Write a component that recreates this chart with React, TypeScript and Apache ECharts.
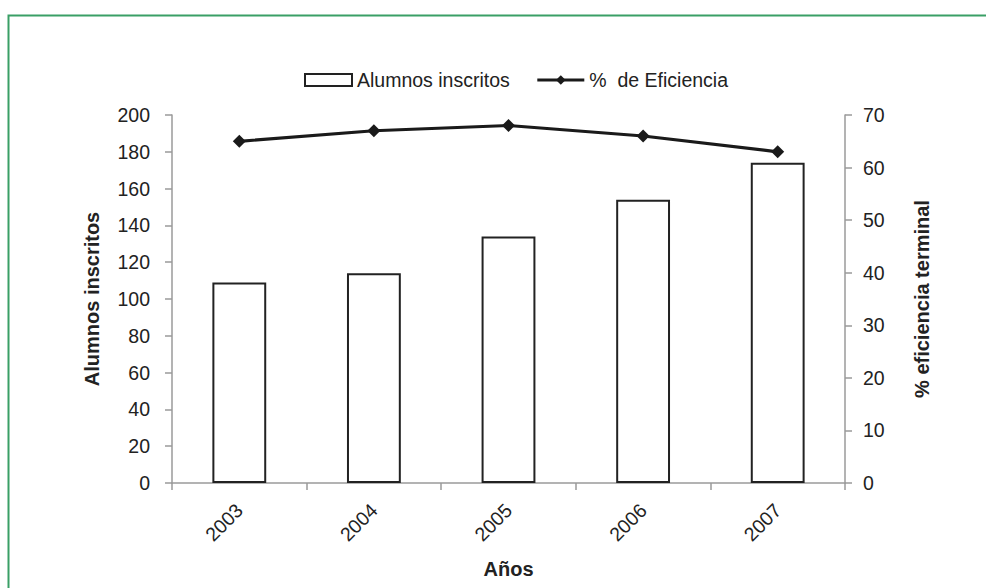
import React, { useEffect, useRef } from "react";
import * as echarts from "echarts";

const years = ["2003", "2004", "2005", "2006", "2007"];
const alumnosInscritos = [109, 114, 134, 154, 174];
const eficiencia = [65, 67, 68, 66, 63];

const FONT = "'Liberation Sans', Arial, Helvetica, sans-serif";
const AXIS_GRAY = "#9a9a9a";
const TEXT = "#222";

export default function App() {
  const ref = useRef<HTMLDivElement>(null);

  useEffect(() => {
    if (!ref.current) return;
    const chart = echarts.init(ref.current, null, { renderer: "svg" });
    chart.setOption({
      animation: false,
      backgroundColor: "#fff",
      textStyle: { fontFamily: FONT },
      graphic: [
        {
          type: "rect",
          shape: { x: 8.5, y: 15.5, width: 1100, height: 700 },
          style: { fill: "none", stroke: "#3a9f66", lineWidth: 2 },
          silent: true,
        },
      ],
      legend: {
        left: 299,
        top: 65,
        itemWidth: 47,
        itemHeight: 12,
        itemGap: 26,
        textStyle: { fontSize: 19.5, color: TEXT, fontFamily: FONT },
        data: [
          { name: "Alumnos inscritos", icon: "rect" },
          {
            name: "%  de Eficiencia",
            lineStyle: { width: 3, color: "#1a1a1a" },
            itemStyle: { color: "#1a1a1a" },
          },
        ],
      },
      grid: { left: 172, right: 141, top: 115, bottom: 105, containLabel: false },
      xAxis: {
        type: "category",
        data: years,
        name: "Años",
        nameLocation: "middle",
        nameGap: 76,
        nameTextStyle: { fontSize: 20, fontWeight: "bold", color: TEXT, fontFamily: FONT },
        axisLine: { lineStyle: { color: AXIS_GRAY, width: 1.5 } },
        axisTick: { show: true, length: 7, lineStyle: { color: AXIS_GRAY, width: 1.5 } },
        axisLabel: { rotate: 45, margin: 24, fontSize: 19.5, color: TEXT, fontFamily: FONT },
      },
      yAxis: [
        {
          type: "value",
          min: 0,
          max: 200,
          interval: 20,
          name: "Alumnos inscritos",
          nameLocation: "middle",
          nameGap: 70,
          nameRotate: 90,
          nameTextStyle: { fontSize: 20, fontWeight: "bold", color: TEXT, fontFamily: FONT },
          axisLine: { show: true, lineStyle: { color: AXIS_GRAY, width: 1.5 } },
          axisTick: { show: true, length: 7, lineStyle: { color: AXIS_GRAY, width: 1.5 } },
          axisLabel: { margin: 22, fontSize: 19.5, color: TEXT, fontFamily: FONT },
          splitLine: { show: false },
        },
        {
          type: "value",
          position: "right",
          min: 0,
          max: 70,
          interval: 10,
          name: "% eficiencia terminal",
          nameLocation: "middle",
          nameGap: 67,
          nameRotate: 90,
          nameTextStyle: { fontSize: 20, fontWeight: "bold", color: TEXT, fontFamily: FONT },
          axisLine: { show: true, lineStyle: { color: AXIS_GRAY, width: 1.5 } },
          axisTick: { show: true, length: 7, lineStyle: { color: AXIS_GRAY, width: 1.5 } },
          axisLabel: { margin: 18, fontSize: 19.5, color: TEXT, fontFamily: FONT },
          splitLine: { show: false },
        },
      ],
      series: [
        {
          name: "Alumnos inscritos",
          type: "bar",
          yAxisIndex: 0,
          data: alumnosInscritos,
          barCategoryGap: "60%",
          itemStyle: { color: "#fff", borderColor: "#222", borderWidth: 2 },
        },
        {
          name: "%  de Eficiencia",
          type: "line",
          yAxisIndex: 1,
          data: eficiencia,
          symbol: "diamond",
          symbolSize: 13,
          lineStyle: { color: "#1a1a1a", width: 3.2 },
          itemStyle: { color: "#1a1a1a" },
        },
      ],
    });
    return () => chart.dispose();
  }, []);

  return (
    <div
      ref={ref}
      style={{ position: "fixed", left: 0, top: 0, width: 986, height: 588 }}
    />
  );
}
